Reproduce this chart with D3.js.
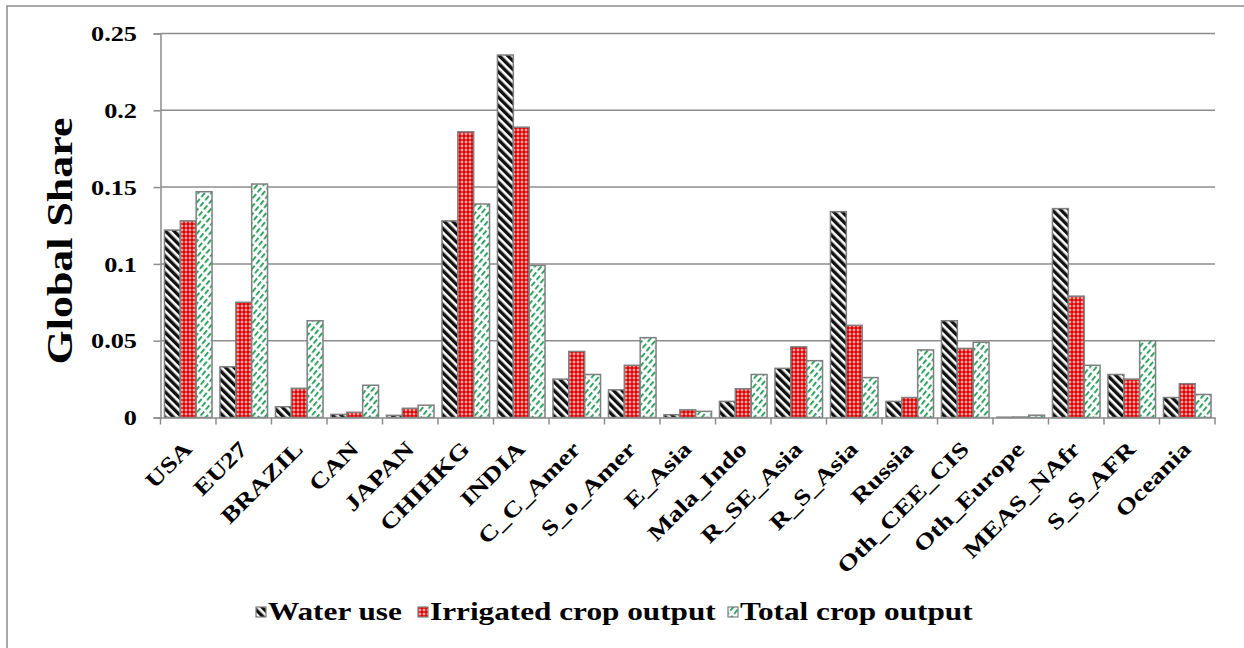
<!DOCTYPE html>
<html><head><meta charset="utf-8">
<script src="https://cdn.jsdelivr.net/npm/d3@7/dist/d3.min.js"></script>
<style>body{margin:0;background:#fff}svg{display:block}</style>
</head><body>
<svg id="c" width="1244" height="648"></svg>
<script>
const categories = ["USA","EU27","BRAZIL","CAN","JAPAN","CHIHKG","INDIA","C_C_Amer","S_o_Amer","E_Asia","Mala_Indo","R_SE_Asia","R_S_Asia","Russia","Oth_CEE_CIS","Oth_Europe","MEAS_NAfr","S_S_AFR","Oceania"];
const seriesNames = ["Water use","Irrigated crop output","Total crop output"];
const waterUse   = [0.122,0.033,0.007,0.002,0.0014,0.128,0.236,0.025,0.018,0.0018,0.0105,0.032,0.134,0.0105,0.063,0.0002,0.136,0.028,0.013];
const irrigated  = [0.128,0.075,0.019,0.0034,0.006,0.186,0.189,0.043,0.034,0.005,0.0187,0.046,0.060,0.013,0.045,0.0003,0.079,0.025,0.022];
const totalCrop  = [0.147,0.152,0.063,0.021,0.008,0.139,0.099,0.028,0.052,0.004,0.028,0.037,0.026,0.044,0.049,0.0015,0.034,0.050,0.015];
const yTicks = [0,0.05,0.1,0.15,0.2,0.25];
const yTickLabels = ["0","0.05","0.1","0.15","0.2","0.25"];

const FONT = "Liberation Serif";
const STRETCH = 1.25;
const svg = d3.select("#c");
const defs = svg.append("defs");
// patterns
const p1 = defs.append("pattern").attr("id","pWater").attr("patternUnits","userSpaceOnUse").attr("width",6).attr("height",6).attr("patternTransform","rotate(-45)");
p1.append("rect").attr("width",6).attr("height",6).attr("fill","#fff");
p1.append("rect").attr("width",3.4).attr("height",6).attr("fill","#111");
const p2 = defs.append("pattern").attr("id","pIrr").attr("patternUnits","userSpaceOnUse").attr("width",4).attr("height",4);
p2.append("rect").attr("width",4).attr("height",4).attr("fill","#e00000");
p2.append("rect").attr("x",1.5).attr("y",0.5).attr("width",1).attr("height",3).attr("fill","#fff").attr("opacity",0.8);
p2.append("rect").attr("x",0.5).attr("y",1.5).attr("width",3).attr("height",1).attr("fill","#fff").attr("opacity",0.8);
const p3 = defs.append("pattern").attr("id","pTot").attr("patternUnits","userSpaceOnUse").attr("width",5).attr("height",8).attr("patternTransform","rotate(40)");
p3.append("rect").attr("width",5).attr("height",8).attr("fill","#fff");
p3.append("rect").attr("x",0).attr("y",0).attr("width",1.8).attr("height",5.5).attr("fill","#1f9a55");
const fills = ["url(#pWater)","url(#pIrr)","url(#pTot)"];

// frame
svg.append("path").attr("d","M7,648 V6 H1244").attr("fill","none").attr("stroke","#8c8c8c").attr("stroke-width",1.5);

const m = {l:160.5, r:1215, t:33.5, b:417.5};
const x = d3.scaleBand().domain(categories).range([m.l,m.r]).paddingInner(0).paddingOuter(0);
const inner = d3.scaleBand().domain(seriesNames).range([0,x.bandwidth()]).paddingInner(0).paddingOuter(0.25);
const y = d3.scaleLinear().domain([0,0.25]).range([m.b,m.t]);

// gridlines
svg.append("g").selectAll("line").data(yTicks.slice(1)).join("line")
  .attr("x1",m.l).attr("x2",m.r).attr("y1",d=>y(d)).attr("y2",d=>y(d))
  .attr("stroke","#8c8c8c").attr("stroke-width",1.5);

// y axis
const yAxis = d3.axisLeft(y).tickValues(yTicks).tickFormat((d,i)=>yTickLabels[i]).tickSize(7);
const gy = svg.append("g").attr("transform",`translate(${m.l},0)`).call(yAxis);
gy.select(".domain").attr("stroke","#8c8c8c").attr("stroke-width",1.5);
gy.selectAll(".tick line").attr("stroke","#8c8c8c").attr("stroke-width",1.5);
gy.selectAll(".tick text").attr("x",null).attr("dy",null)
  .attr("transform",`translate(-23.5,7.2) scale(${STRETCH},1)`)
  .attr("font-size",21).attr("fill","#000").attr("font-family",FONT).attr("font-weight","bold");

// bars
const series = [waterUse,irrigated,totalCrop];
series.forEach((vals,si)=>{
  svg.append("g").selectAll("rect").data(vals).join("rect")
    .attr("x",(d,i)=>x(categories[i])+inner(seriesNames[si]))
    .attr("width",inner.bandwidth())
    .attr("y",d=>y(d))
    .attr("height",d=>y(0)-y(d))
    .attr("fill",fills[si])
    .attr("stroke","#7f7f7f").attr("stroke-width",1.5);
});

// x axis
const xAxis = d3.axisBottom(x).tickSize(0).tickFormat("");
const gx = svg.append("g").attr("transform",`translate(0,${m.b})`).call(xAxis);
gx.select(".domain").attr("stroke","#8c8c8c").attr("stroke-width",1.5);
const bounds = categories.map(c=>x(c)).concat([m.r]);
gx.selectAll(".bt").data(bounds).join("line").attr("class","bt")
  .attr("x1",d=>d).attr("x2",d=>d).attr("y1",0).attr("y2",7).attr("stroke","#8c8c8c").attr("stroke-width",1.5);
svg.append("g").selectAll("text").data(categories).join("text")
  .attr("transform",d=>`translate(${x(d)+x.bandwidth()/2+5},${m.b+33}) rotate(-45) scale(${STRETCH},1)`)
  .attr("text-anchor","end").attr("font-size",22).attr("font-family",FONT).attr("font-weight","bold").attr("fill","#000").text(d=>d);

// y title
svg.append("text").attr("transform",`translate(72,241) rotate(-90) scale(1.22,1)`).attr("text-anchor","middle")
  .attr("font-size",36).attr("font-family",FONT).attr("font-weight","bold").attr("fill","#000").text("Global Share");

// legend
const legendX = [256,418,728];
const lg = svg.append("g").selectAll("g").data(seriesNames).join("g")
  .attr("transform",(d,i)=>`translate(${legendX[i]},612)`);
lg.append("rect").attr("x",0).attr("y",-5).attr("width",10).attr("height",10).attr("fill",(d,i)=>fills[i]).attr("stroke","#7f7f7f").attr("stroke-width",1.2);
lg.append("text").attr("transform",`translate(12,8) scale(${STRETCH},1)`).attr("font-size",25).attr("font-family",FONT).attr("font-weight","bold").attr("fill","#000").text(d=>d);
</script>
</body></html>
